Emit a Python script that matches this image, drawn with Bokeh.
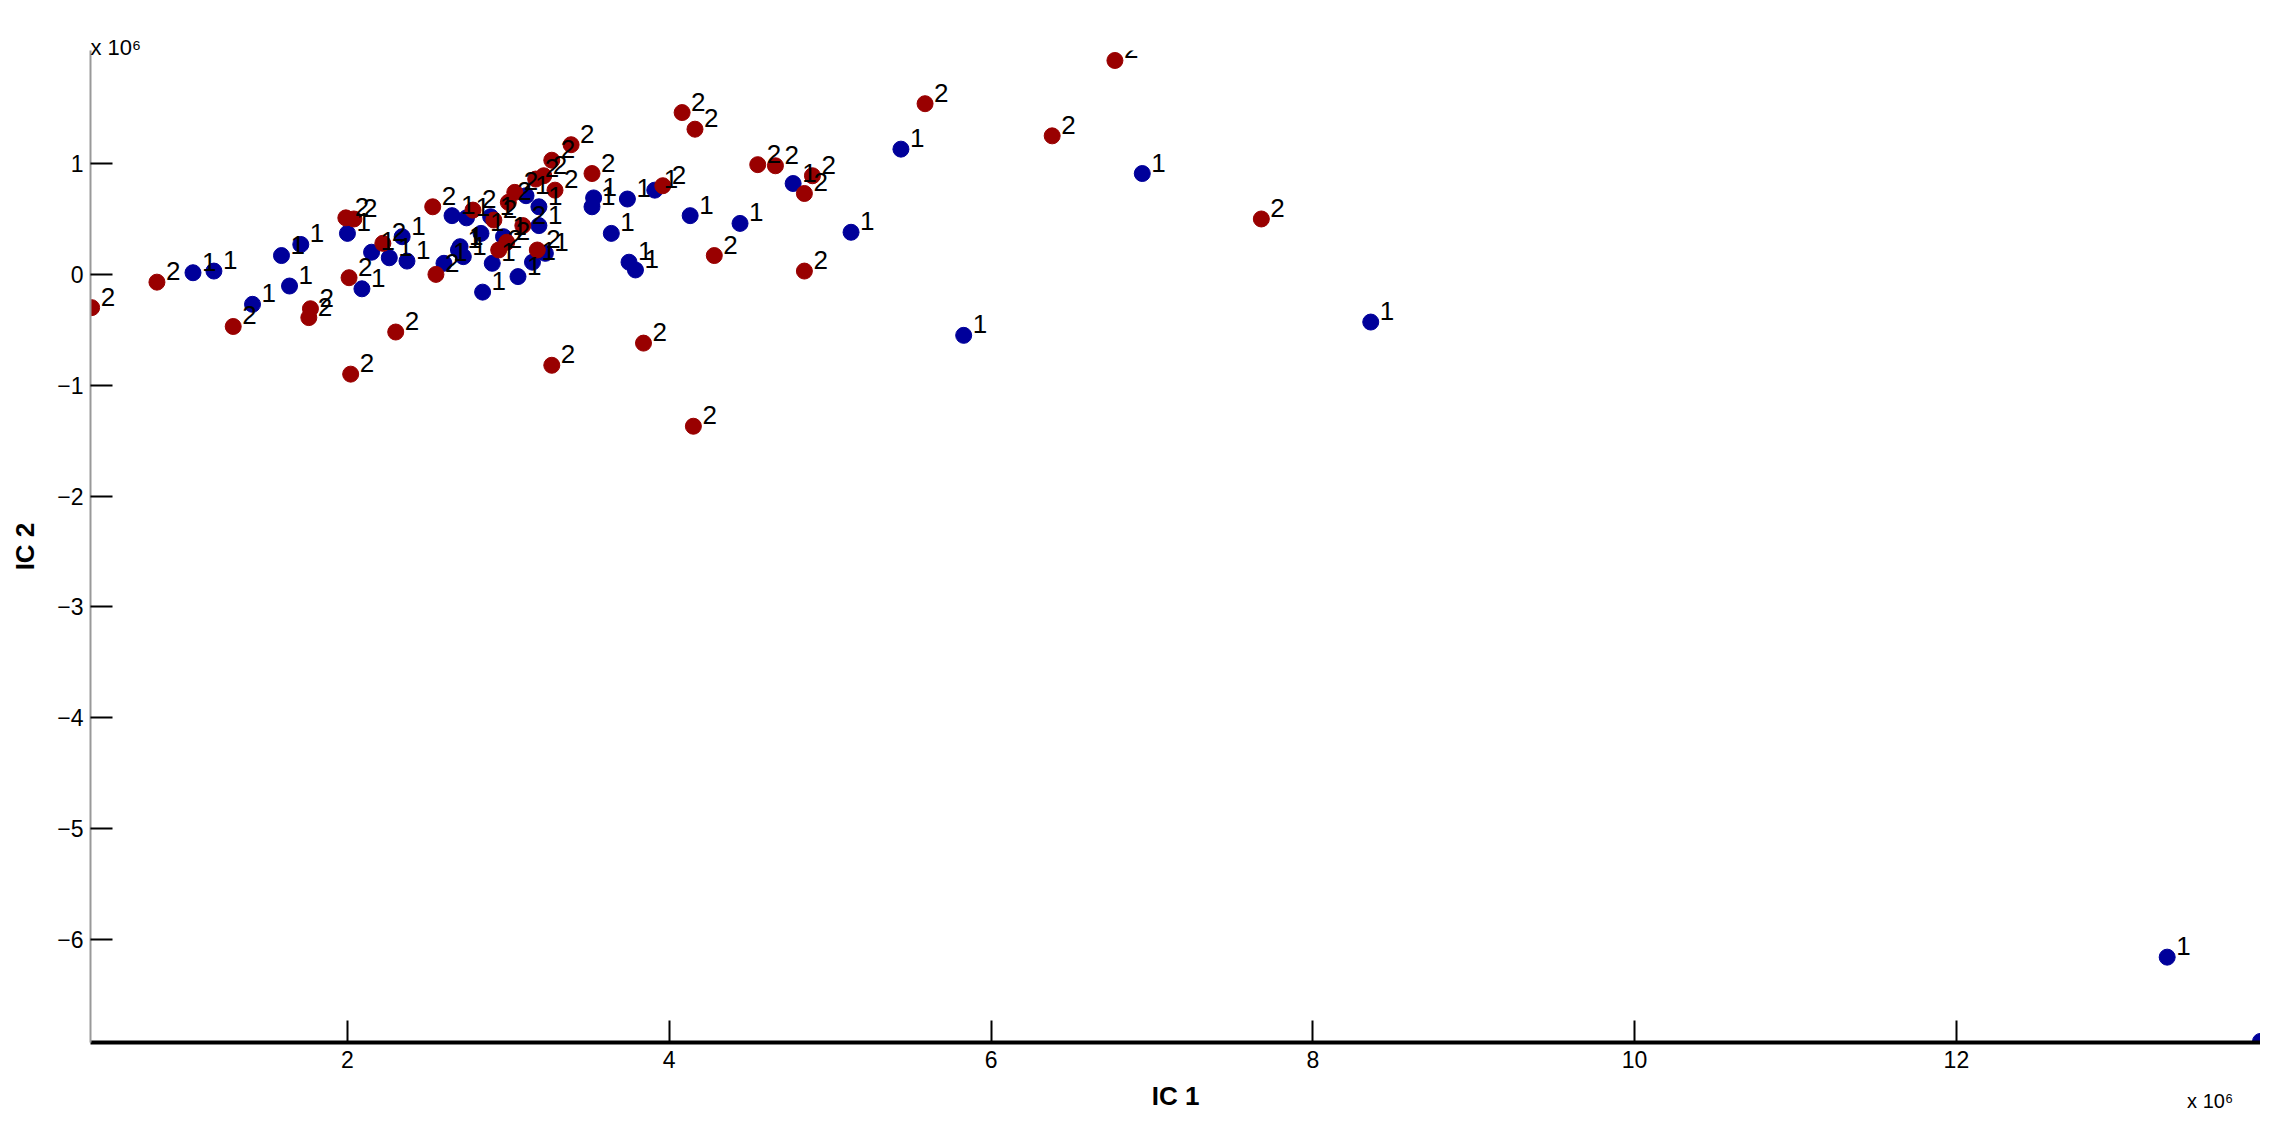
from bokeh.plotting import figure
from bokeh.models import ColumnDataSource, Range1d, FixedTicker, Label
from bokeh.core.properties import value
from bokeh.embed import file_html
from bokeh.resources import INLINE

# Group 1 (blue)
ic1_g1 = [1.04, 1.17, 1.59, 1.71, 1.64, 1.41, 2.00, 2.09, 2.15, 2.26, 2.34, 2.37,
          2.65, 2.74, 2.70, 2.60, 2.69, 2.72, 2.89, 2.83, 3.19, 2.97, 3.23, 3.15,
          2.90, 3.06, 2.84, 3.11, 3.19, 3.53, 3.52, 3.74, 3.64, 3.75, 3.79, 3.91,
          4.13, 4.44, 4.77, 5.13, 5.44, 5.83, 6.94, 8.36, 13.31, 13.89]
ic2_g1 = [0.015, 0.03, 0.17, 0.27, -0.105, -0.27, 0.37, -0.13, 0.20, 0.15, 0.34, 0.12,
          0.53, 0.51, 0.25, 0.10, 0.22, 0.16, 0.52, 0.37, 0.44, 0.34, 0.19, 0.11,
          0.10, -0.02, -0.16, 0.71, 0.61, 0.69, 0.61, 0.68, 0.37, 0.11, 0.04, 0.76,
          0.53, 0.46, 0.82, 0.38, 1.13, -0.55, 0.91, -0.43, -6.16, -6.92]

# Group 2 (red)
ic1_g2 = [0.41, 0.816, 1.29, 1.77, 1.76, 1.99, 2.04, 2.01, 2.02, 2.22, 2.30, 2.53,
          2.78, 2.55, 3.39, 3.27, 3.52, 3.17, 3.22, 3.29, 3.04, 3.00, 2.91, 3.09,
          2.99, 2.94, 3.18, 3.96, 4.08, 4.16, 3.27, 3.84, 4.15, 4.28, 4.55, 4.66,
          4.89, 4.84, 4.84, 5.59, 6.77, 6.38, 7.68]
ic2_g2 = [-0.30, -0.07, -0.47, -0.31, -0.39, 0.51, 0.50, -0.03, -0.90, 0.28, -0.52, 0.61,
          0.58, 0.00, 1.17, 1.03, 0.91, 0.86, 0.89, 0.76, 0.74, 0.65, 0.49, 0.44,
          0.29, 0.22, 0.22, 0.80, 1.46, 1.31, -0.82, -0.62, -1.37, 0.17, 0.99, 0.98,
          0.89, 0.73, 0.03, 1.54, 1.93, 1.25, 0.50]

x_ticks = [2, 4, 6, 8, 10, 12]
y_ticks = [-6, -5, -4, -3, -2, -1, 0, 1]
exponent_text = "x 10\u2076"

X0, X1 = 0.403, 13.89
Y0, Y1 = -6.93, 2.02
PX_PER_Y = 110.8  # vertical pixels per unit (for placing the exponent labels)

src1 = ColumnDataSource(dict(x=ic1_g1, y=ic2_g1, lab=["1"] * len(ic1_g1)))
src2 = ColumnDataSource(dict(x=ic1_g2, y=ic2_g2, lab=["2"] * len(ic1_g2)))

FONT = "Liberation Sans Narrow, Liberation Sans, sans-serif"

p = figure(width=2260, height=1117, output_backend="svg", toolbar_location=None, title=None,
           x_range=Range1d(X0, X1), y_range=Range1d(Y0, Y1),
           min_border_left=90, min_border_right=0, min_border_top=50, min_border_bottom=75)
p.outline_line_color = None
p.grid.visible = False
p.background_fill_color = "white"

p.scatter("x", "y", source=src1, size=16, color="#00009a", line_color="#00009a")
p.scatter("x", "y", source=src2, size=16, color="#990000", line_color="#990000")

for src in (src1, src2):
    p.text("x", "y", text="lab", source=src, x_offset=9, y_offset=-11,
           text_font=value(FONT), text_font_size="26px", text_color="black",
           text_baseline="middle", text_align="left")

for ax in (p.xaxis[0], p.yaxis[0]):
    ax.major_tick_in = 22
    ax.major_tick_out = 0
    ax.minor_tick_line_color = None
    ax.major_tick_line_color = "black"
    ax.major_tick_line_width = 2
    ax.major_label_text_font = FONT
    ax.major_label_text_font_size = "23px"
    ax.major_label_text_color = "black"
    ax.axis_label_text_font = "Liberation Sans, sans-serif"
    ax.axis_label_text_font_style = "bold"
    ax.axis_label_text_font_size = "26px"
    ax.axis_label_text_color = "black"

p.xaxis.ticker = FixedTicker(ticks=x_ticks)
p.yaxis.ticker = FixedTicker(ticks=y_ticks)
p.xaxis.axis_line_color = "black"
p.xaxis.axis_line_width = 4
p.yaxis.axis_line_color = "#999999"
p.yaxis.axis_line_width = 2
p.xaxis.major_label_standoff = 8
p.yaxis.major_label_standoff = 7
p.xaxis.axis_label = "IC 1"
p.yaxis.axis_label = "IC 2"
p.xaxis.axis_label_standoff = 10
p.yaxis.axis_label_standoff = 14

# exponent labels (placed in a side panel so they are not clipped by the frame)
p.add_layout(Label(x=X0, y=1.95 + 11 / PX_PER_Y, text=exponent_text,
                   text_font=FONT, text_font_size="22px", text_color="black",
                   text_align="left", text_baseline="alphabetic"), "above")
p.add_layout(Label(x=13.72, y=1.95 - (1100 - 58) / PX_PER_Y, text=exponent_text,
                   text_font=FONT, text_font_size="20px", text_color="black",
                   text_align="right", text_baseline="alphabetic"), "above")

open("out.html", "w").write(file_html(p, INLINE))
